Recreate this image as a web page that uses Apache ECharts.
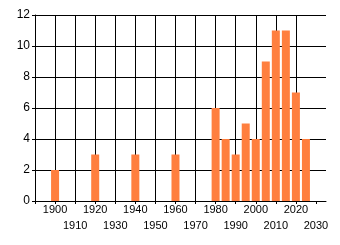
<!DOCTYPE html>
<html><head><meta charset="utf-8">
<script src="https://cdn.jsdelivr.net/npm/echarts@6/dist/echarts.min.js"></script>
<style>html,body{margin:0;padding:0;background:#fff}#c{width:340px;height:245px}</style>
</head><body><div id="c"></div>
<script>
const years = [1900, 1920, 1940, 1960, 1980, 1985, 1990, 1995, 2000, 2005, 2010, 2015, 2020, 2025];
const counts = [2, 3, 3, 3, 6, 4, 3, 5, 4, 9, 11, 11, 7, 4];
const xTicks = [1890, 1900, 1910, 1920, 1930, 1940, 1950, 1960, 1970, 1980, 1990, 2000, 2010, 2020, 2030];
const xLabelsRow1 = [1900, 1920, 1940, 1960, 1980, 2000, 2020];
const xLabelsRow2 = [1910, 1930, 1950, 1970, 1990, 2010, 2030];
const yTicks = [0, 2, 4, 6, 8, 10, 12];

const chart = echarts.init(document.getElementById('c'), null, {renderer: 'canvas'});
const font = {fontFamily: 'Liberation Sans, Arial, sans-serif', fontSize: 11, color: '#000'};
chart.setOption({
  animation: false,
  grid: {left: 35, top: 15, right: 14, bottom: 44, containLabel: false},
  xAxis: [{
    type: 'value', min: 1890, max: 2035, interval: 10, position: 'bottom',
    axisLine: {show: true, lineStyle: {color: '#000', width: 1}},
    axisTick: {show: true, length: 3, lineStyle: {color: '#000'}, customValues: xTicks},
    splitLine: {show: true, showMaxLine: false, lineStyle: {color: '#000', width: 1}},
    axisLabel: Object.assign({}, font, {
      margin: 3, interval: 0, showMinLabel: true, showMaxLabel: true,
      customValues: xLabelsRow1, formatter: v => String(v)
    })
  }, {
    type: 'value', min: 1890, max: 2035, interval: 10, position: 'bottom', offset: 0,
    axisLine: {show: false}, axisTick: {show: false}, splitLine: {show: false},
    axisLabel: Object.assign({}, font, {
      margin: 19, interval: 0, showMinLabel: true, showMaxLabel: true,
      customValues: xLabelsRow2, formatter: v => String(v)
    })
  }],
  yAxis: {
    type: 'value', min: 0, max: 12, interval: 2,
    axisLine: {show: true, lineStyle: {color: '#000', width: 1}},
    axisTick: {show: true, length: 3, lineStyle: {color: '#000'}},
    splitLine: {show: true, lineStyle: {color: '#000', width: 1}},
    axisLabel: Object.assign({}, font, {margin: 5, fontSize: 12, customValues: yTicks, formatter: v => String(v)})
  },
  series: [{
    type: 'bar',
    barWidth: 8,
    itemStyle: {color: '#FF7F3F'},
    data: years.map((y, i) => [y, counts[i]])
  }]
});
</script></body></html>
